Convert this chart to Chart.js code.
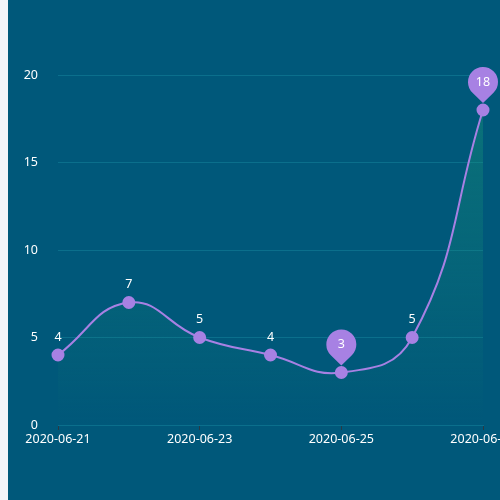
<!DOCTYPE html>
<html>
<head>
<meta charset="utf-8">
<script src="https://cdn.jsdelivr.net/npm/chart.js@4/dist/chart.umd.min.js"></script>
<style>
html,body{margin:0;padding:0;background:#f3f4f8;width:500px;height:500px;overflow:hidden;}
#wrap{position:absolute;left:8px;top:0;width:492px;height:500px;background:#00587a;}
canvas{display:block;}
</style>
</head>
<body>
<div id="wrap"><canvas id="c" width="492" height="500"></canvas></div>
<script>
const categories = ['2020-06-21','2020-06-22','2020-06-23','2020-06-24','2020-06-25','2020-06-26','2020-06-27'];
const values = [4, 7, 5, 4, 3, 5, 18];
const yTicks = [0, 5, 10, 15, 20];

const PURPLE = '#a781e3';
const GRID = '#0b6f8c';
const FONT = '"Noto Sans", "DejaVu Sans", sans-serif';
const FS = 12.5;

const maxIdx = values.indexOf(Math.max(...values));
const minIdx = values.indexOf(Math.min(...values));

const labelPlugin = {
  id: 'labels',
  afterDatasetsDraw(chart) {
    const ctx = chart.ctx;
    const meta = chart.getDatasetMeta(0);
    ctx.save();
    ctx.font = FS + 'px ' + FONT;
    ctx.textAlign = 'center';
    ctx.textBaseline = 'middle';
    meta.data.forEach((pt, i) => {
      if (i === maxIdx || i === minIdx) {
        const cx = pt.x, cy = pt.y - 28, r = 15, tipY = pt.y - 7;
        ctx.fillStyle = PURPLE;
        ctx.beginPath();
        const a = Math.acos(r / (tipY - cy));
        ctx.moveTo(cx, tipY);
        ctx.arc(cx, cy, r, Math.PI / 2 + a, Math.PI / 2 - a, false);
        ctx.closePath();
        ctx.fill();
        ctx.fillStyle = '#ffffff';
        ctx.fillText(String(values[i]), cx, cy);
      } else {
        ctx.fillStyle = '#ffffff';
        ctx.fillText(String(values[i]), pt.x, pt.y - 18);
      }
    });
    ctx.restore();
  }
};

new Chart(document.getElementById('c'), {
  type: 'line',
  data: {
    labels: categories,
    datasets: [{
      data: values,
      borderColor: PURPLE,
      borderWidth: 2,
      pointBackgroundColor: PURPLE,
      pointBorderColor: PURPLE,
      pointRadius: 5.5,
      pointHoverRadius: 5.5,
      tension: 0.45,
      fill: true,
      backgroundColor(context) {
        const c = context.chart;
        const area = c.chartArea;
        if (!area) return 'rgba(20,140,130,0.3)';
        const g = c.ctx.createLinearGradient(0, area.top, 0, area.bottom);
        g.addColorStop(0, 'rgba(25,150,120,0.45)');
        g.addColorStop(1, 'rgba(25,150,120,0.0)');
        return g;
      }
    }]
  },
  options: {
    responsive: false,
    animation: false,
    layout: { padding: { top: 75, left: 0, right: 17, bottom: 0 } },
    plugins: { legend: { display: false }, tooltip: { enabled: false } },
    scales: {
      x: {
        offset: false,
        afterFit(s) { s.paddingLeft = 0; s.paddingRight = 0; s.height = 75; },
        grid: {
          drawOnChartArea: false,
          drawTicks: true,
          tickLength: 5,
          tickColor: (c) => (c.index % 2 === 0 ? '#2a3a44' : 'rgba(0,0,0,0)')
        },
        border: { display: true, color: GRID, width: 1 },
        ticks: {
          autoSkip: false,
          maxRotation: 0,
          padding: 2,
          color: '#ffffff',
          font: { family: FONT, size: FS },
          callback(v, i) { return i % 2 === 0 ? categories[i] : ''; }
        }
      },
      y: {
        min: 0,
        max: 20,
        afterFit(s) { s.width = 50; },
        afterBuildTicks(s) { s.ticks = yTicks.map(v => ({ value: v })); },
        grid: { color: GRID, drawTicks: false, lineWidth: 1 },
        border: { display: false },
        ticks: {
          padding: 20,
          color: '#ffffff',
          font: { family: FONT, size: FS }
        }
      }
    }
  },
  plugins: [labelPlugin]
});
</script>
</body>
</html>
